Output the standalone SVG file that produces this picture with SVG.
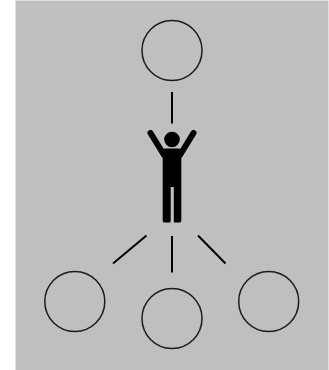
<svg xmlns="http://www.w3.org/2000/svg" width="329" height="370" viewBox="0 0 329 370">
<style>
.n{fill:none;stroke:#1c1c1c;stroke-width:1.5}
.c{stroke:#000;stroke-width:2;fill:none}
.p{fill:#000}
.a{stroke:#000;stroke-width:6;stroke-linecap:round;fill:none}
</style>
<rect x="15.500" y="0.500" width="313" height="369.500" fill="#bfbfbf"/>
<g id="connectors">
<line class="c" x1="172" y1="92" x2="172" y2="123.500"/>
<line class="c" x1="146.500" y1="235.500" x2="113" y2="263.500"/>
<line class="c" x1="172" y1="236" x2="172" y2="272.500"/>
<line class="c" x1="198" y1="235.500" x2="225.500" y2="263.500"/>
</g>
<g id="node-top"><circle class="n" cx="172" cy="50.500" r="30"/></g>
<g id="node-left"><circle class="n" cx="74.800" cy="301.500" r="30"/></g>
<g id="node-middle"><circle class="n" cx="172" cy="318.500" r="30"/></g>
<g id="node-right"><circle class="n" cx="268.700" cy="301.500" r="30"/></g>
<g id="person">
<circle class="p" cx="172" cy="139.500" r="7.800"/>
<path class="a" d="M150.500 133L164 155M193.500 133L180 155"/>
<path class="p" d="M162.700 150.500Q162.700 148.500 165 148.500H179Q181.300 148.500 181.300 150.500V221Q181.300 222.500 179.500 222.500H174.500Q173.800 222.500 173.800 221V187H170.700V221Q170.700 222.500 169.500 222.500H164.500Q162.700 222.500 162.700 221Z"/>
</g>
</svg>
